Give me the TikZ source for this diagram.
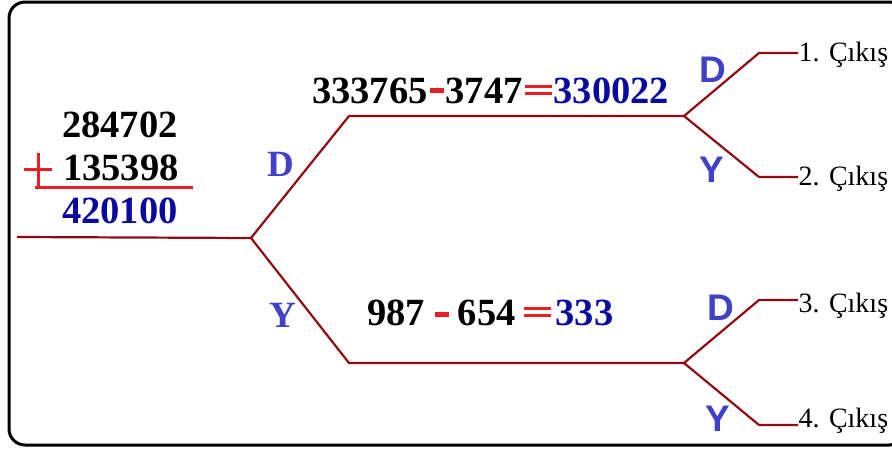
\documentclass[tikz,border=0pt]{standalone}
\usepackage{fontspec}
\setmainfont{Liberation Serif}
\newfontfamily\lsans{Liberation Sans}
\usetikzlibrary{positioning,calc}
\definecolor{brline}{HTML}{8E0B12}
\definecolor{brred}{HTML}{EB1E23}
\definecolor{brnavy}{HTML}{0A0AA0}
\definecolor{brlbl}{HTML}{4040C8}
\newcommand\opminus[1]{\textcolor{brred}{\rule[#1]{14pt}{5pt}}}
\newcommand\opequal{\textcolor{brred}{\rlap{\rule[8pt]{27pt}{3.5pt}}\rule[15pt]{27pt}{3.5pt}}}
\tikzset{
  wire/.style={draw=brline, line width=2.2pt},
  num/.style={font=\fontsize{38.5}{40}\selectfont\bfseries, inner sep=0pt, anchor=base west},
  res/.style={num, text=brnavy},
  lblD/.style={font=\fontsize{37}{40}\selectfont\rmfamily\bfseries, text=brlbl, inner sep=0pt},
  lblS/.style={font=\fontsize{37}{40}\selectfont\lsans\bfseries, text=brlbl, inner sep=0pt},
  exitlbl/.style={font=\fontsize{28}{30}\selectfont, anchor=base west, inner sep=0.5pt},
}

\begin{document}
\begin{tikzpicture}[x=1pt, y=-1pt]
    \useasboundingbox (0,0) rectangle (892,450);
    \draw[line width=3pt, rounded corners=16pt] (9,2) rectangle (905,445);
    % addition
    \node[num] (top) at (62,137) {284702};
    \node[num] (mid) at (63,180) {135398};
    \node[res] (sum) at (62,223) {420100};
    \draw[brred, line width=3pt] (24,169) -- (52,169) (38,153) -- (38,187);
    \draw[brred, line width=3pt] (35,187) -- (193,187);
    % tree
    \coordinate (in) at (17,237);
    \coordinate (root) at (251,238);
    \coordinate (up1) at (349,116);
    \coordinate (up2) at (684,116);
    \coordinate (lo1) at (349,363);
    \coordinate (lo2) at (684,363);
    \coordinate (k1) at (759,53);
    \coordinate (k2) at (759,177);
    \coordinate (k3) at (759,300);
    \coordinate (k4) at (759,425);
    \node[num] (eqtop) at (312,103) {333765\hspace{2pt}\opminus{10pt}\hspace{2pt}3747\hspace{2pt}\opequal\hspace{2pt}\textcolor{brnavy}{330022}};
    \node[num] (eqbot) at (367,325) {987\hspace{10pt}\opminus{8pt}\hspace{9pt}654\hspace{8pt}\opequal\hspace{5pt}\textcolor{brnavy}{333}};
    \node[lblD] (d0) at (281,164) {D};
    \node[lblD] (y0) at (283,315) {Y};
    \node[lblS] (d1) at (713,70) {D};
    \node[lblS] (y1) at (712,170) {Y};
    \node[lblS] (d2) at (721,308) {D};
    \node[lblS] (y2) at (718,419) {Y};
    \node[exitlbl] (o1) at (798,61) {1. Çıkış};
    \node[exitlbl] (o2) at (798,185) {2. Çıkış};
    \node[exitlbl] (o3) at (798,312) {3. Çıkış};
    \node[exitlbl] (o4) at (798,427) {4. Çıkış};
    \draw[wire] (in) -- (root) -- (up1) -- (up2);
    \draw[wire] (root) -- (lo1) -- (lo2);
    \draw[wire] (up2) -- (k1) -- (k1 -| o1.west);
    \draw[wire] (up2) -- (k2) -- (k2 -| o2.west);
    \draw[wire] (lo2) -- (k3) -- (k3 -| o3.west);
    \draw[wire] (lo2) -- (k4) -- (k4 -| o4.west);
\end{tikzpicture}
\end{document}
